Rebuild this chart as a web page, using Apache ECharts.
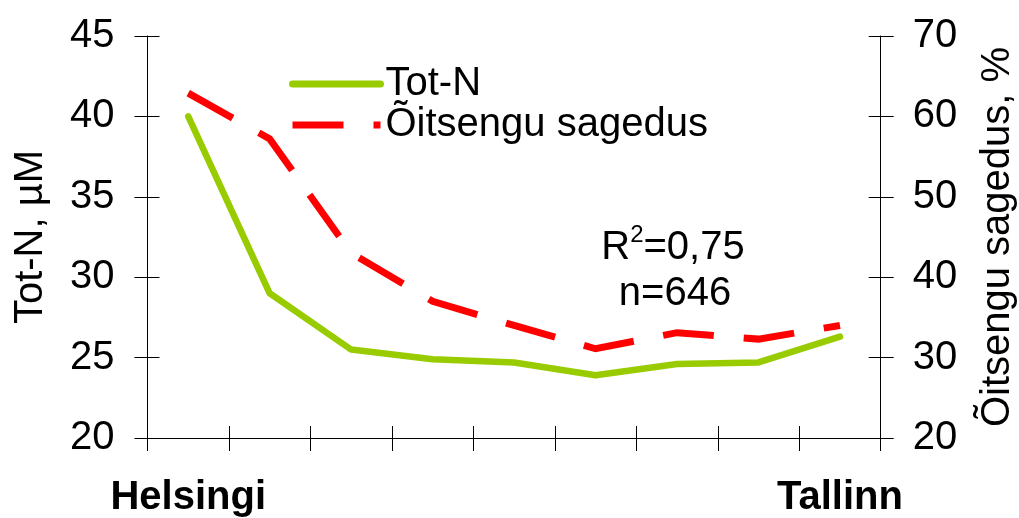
<!DOCTYPE html>
<html>
<head>
<meta charset="utf-8">
<script src="https://cdn.jsdelivr.net/npm/echarts/dist/echarts.min.js"></script>
<style>html,body{margin:0;padding:0;background:#fff}#c{width:1019px;height:518px}</style>
</head>
<body>
<div id="c"></div>
<script>
// ---- data ----
const stations = [1, 2, 3, 4, 5, 6, 7, 8, 9];
const stationLabels = ['Helsingi', '', '', '', '', '', '', '', 'Tallinn'];
const totN = [40.0, 29.0, 25.5, 24.9, 24.7, 23.9, 24.6, 24.7, 26.3];
const bloomFreq = [62.9, 57.2, 43.0, 37.0, 34.0, 31.1, 33.1, 32.3, 34.0];
const seriesNames = ['Tot-N', 'Õitsengu sagedus'];
const leftAxisName = 'Tot-N, µM';
const rightAxisName = 'Õitsengu sagedus, %';
const leftScale = [20, 45, 5];
const rightScale = [20, 70, 10];
const rSquared = '0,75';
const nObs = '646';

// ---- chart ----
const FONT = '"Liberation Sans", Arial, sans-serif';
const black = {color: '#000', width: 1};
const chart = echarts.init(document.getElementById('c'), null, {renderer: 'canvas'});

function yAx(pos, sc, main, name) {
  return {
    type: 'value', position: pos, min: sc[0], max: sc[1], interval: sc[2],
    name: main ? name : '', nameLocation: 'middle', nameGap: 97, nameRotate: 90,
    nameTextStyle: {fontSize: 40, color: '#000', fontFamily: FONT},
    axisLine: {show: main, onZero: false, lineStyle: black},
    axisTick: {show: true, inside: !main, length: main ? 13 : 12, lineStyle: black},
    axisLabel: {show: main, margin: pos === 'left' ? 33 : 32, fontSize: 40, color: '#000', fontFamily: FONT},
    splitLine: {show: false}
  };
}

const option = {
  animation: false,
  backgroundColor: '#fff',
  textStyle: {fontFamily: FONT},
  grid: {left: 147.5, right: 138.3, top: 36, bottom: 80, containLabel: false, outerBoundsMode: 'none'},
  legend: {
    orient: 'vertical', left: 289, top: 64, padding: 0,
    itemWidth: 88, itemHeight: 14, itemGap: 1,
    selectedMode: false,
    itemStyle: {opacity: 0, borderWidth: 0},
    lineStyle: {width: 7},
    textStyle: {fontSize: 40, color: '#000', fontFamily: FONT, lineHeight: 40},
    data: seriesNames
  },
  xAxis: [
    {
      type: 'category', data: stations, position: 'bottom', boundaryGap: true,
      axisLine: {show: true, onZero: false, lineStyle: black},
      axisTick: {show: true, inside: false, length: 13, interval: 0, lineStyle: black},
      axisLabel: {interval: 0, margin: 40, fontSize: 40, fontWeight: 'bold', color: '#000', fontFamily: FONT,
        formatter: (v, i) => stationLabels[i]},
      splitLine: {show: false}
    },
    {
      type: 'category', data: stations, position: 'bottom', boundaryGap: true,
      axisLine: {show: false, onZero: false},
      axisTick: {show: true, inside: true, length: 12, interval: 0, lineStyle: black},
      axisLabel: {show: false},
      splitLine: {show: false}
    }
  ],
  yAxis: [
    yAx('left', leftScale, true, leftAxisName),
    yAx('right', rightScale, true, rightAxisName),
    yAx('left', leftScale, false, ''),
    yAx('right', rightScale, false, '')
  ],
  series: [
    {
      name: seriesNames[0], type: 'line', data: totN, xAxisIndex: 0, yAxisIndex: 0,
      symbol: 'none', z: 2,
      lineStyle: {color: '#99cc00', width: 6.5, cap: 'round', join: 'round'},
      itemStyle: {color: '#99cc00'}
    },
    {
      name: seriesNames[1], type: 'line', data: bloomFreq, xAxisIndex: 0, yAxisIndex: 1,
      symbol: 'none', z: 3,
      lineStyle: {color: '#ff0000', width: 7, type: [51, 30], cap: 'butt', join: 'miter'},
      itemStyle: {color: '#ff0000'}
    }
  ],
  graphic: [
    {
      type: 'text', x: 673, y: 248, z: 10,
      style: {
        text: '{a|R}{s|2}{a|=' + rSquared + '}',
        align: 'center', verticalAlign: 'middle',
        fontSize: 40, fontFamily: FONT, fill: '#000',
        rich: {
          a: {fontSize: 40, lineHeight: 50, fontFamily: FONT, fill: '#000', color: '#000'},
          s: {fontSize: 24, lineHeight: 24, verticalAlign: 'top', fontFamily: FONT, fill: '#000', color: '#000'}
        }
      }
    },
    {
      type: 'text', x: 675, y: 294, z: 10,
      style: {
        text: 'n=' + nObs, align: 'center', verticalAlign: 'middle',
        fontSize: 40, fontFamily: FONT, fill: '#000'
      }
    }
  ]
};
chart.setOption(option);
</script>
</body>
</html>
